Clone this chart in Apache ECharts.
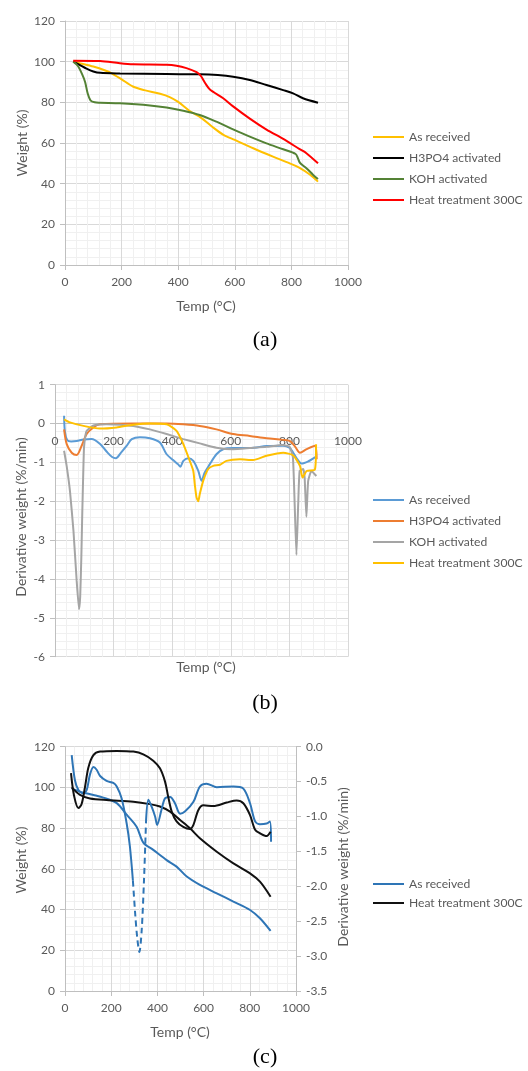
<!DOCTYPE html>
<html>
<head>
<meta charset="utf-8">
<script src="https://cdn.jsdelivr.net/npm/echarts@6/dist/echarts.min.js"></script>
<style>
html,body{margin:0;padding:0;background:#fff;}
.c{position:absolute;left:0;width:528px;height:357px;}
</style>
</head>
<body>
<div id="ca" class="c" style="top:0"></div>
<div id="cb" class="c" style="top:357px"></div>
<div id="cc" class="c" style="top:714px"></div>
<script>
// ---------- Panel (a): Weight (%) vs Temp ----------
const aAsReceived = [[29,100],[60,99],[100,97.6],[140,95.8],[165,94.3],[200,91.3],[240,87.8],[280,86],[336,84.2],[370,82.6],[400,80.2],[442,75.6],[480,72.5],[520,68],[560,64],[600,61.5],[665,57.4],[735,53.3],[794,50],[829,47.8],[865,44.5],[894,41]];
const aH3PO4 = [[29,100],[50,98.6],[76,96.6],[100,95.2],[124,94.5],[194,94.2],[359,93.9],[476,93.8],[540,93.4],[594,92.6],[653,91],[712,88.5],[771,86],[806,84.4],[841,82],[894,79.8]];
const aKOH = [[29,100],[45,98],[60,94],[71,90],[80,84.5],[90,81],[105,80],[124,79.8],[194,79.5],[300,78.5],[359,77.5],[418,75.9],[476,73.8],[535,70.5],[594,66.7],[653,63.1],[712,59.8],[771,56.9],[815,54.6],[823,52.5],[830,50.3],[854,47.5],[877,44.3],[894,42.3]];
const aHeat300 = [[29,100.5],[124,100.3],[194,99.2],[241,98.7],[359,98.5],[394,98],[429,96.8],[465,94.8],[480,93],[495,89.5],[512,86.3],[559,82],[594,78],[653,72],[712,66.6],[771,62],[829,57],[853,55],[894,50]];

// ---------- Panel (b): Derivative weight (%/min) ----------
const bAsReceived = [[31,0.2],[34,-0.22],[42,-0.43],[55,-0.46],[74,-0.45],[97,-0.41],[125,-0.40],[153,-0.52],[176,-0.72],[195,-0.86],[208,-0.89],[224,-0.76],[245,-0.57],[262,-0.40],[290,-0.35],[324,-0.38],[358,-0.49],[381,-0.79],[403,-0.94],[420,-1.05],[428,-1.11],[438,-0.96],[455,-0.89],[472,-0.96],[489,-1.22],[500,-1.47],[511,-1.26],[528,-1.05],[551,-0.79],[574,-0.66],[608,-0.63],[666,-0.63],[722,-0.58],[779,-0.57],[800,-0.62],[813,-0.75],[830,-0.95],[842,-1.03],[865,-0.97],[887,-0.87],[892,-0.86]];
const bH3PO4 = [[31,-0.15],[40,-0.53],[57,-0.75],[74,-0.81],[91,-0.57],[108,-0.27],[131,-0.10],[153,-0.02],[267,0],[381,0],[438,-0.02],[494,-0.06],[551,-0.15],[608,-0.27],[665,-0.32],[722,-0.38],[778,-0.42],[802,-0.45],[820,-0.6],[836,-0.75],[859,-0.66],[887,-0.57],[893,-0.92]];
const bKOH = [[31,-0.70],[40,-1.1],[51,-1.73],[63,-2.76],[74,-4.05],[82,-4.78],[86,-4.45],[90,-3.4],[93,-2.33],[96,-1.4],[99,-0.62],[104,-0.3],[108,-0.19],[131,-0.05],[176,-0.02],[267,-0.06],[324,-0.15],[381,-0.27],[438,-0.40],[494,-0.51],[551,-0.62],[608,-0.66],[665,-0.63],[722,-0.60],[778,-0.55],[801,-0.60],[812,-0.87],[818,-2.08],[824,-3.38],[830,-2.08],[835,-1.22],[847,-1.17],[852,-1.39],[858,-2.40],[864,-1.48],[875,-1.22],[892,-1.35]];
const bHeat300 = [[31,0.11],[51,0.03],[97,-0.06],[153,-0.13],[210,-0.10],[267,-0.03],[324,0],[381,-0.02],[415,-0.19],[438,-0.53],[460,-0.96],[472,-1.22],[477,-1.56],[483,-1.90],[489,-2.0],[494,-1.82],[506,-1.47],[523,-1.17],[540,-1.09],[563,-1.06],[585,-0.96],[631,-0.92],[676,-0.94],[722,-0.83],[779,-0.75],[813,-0.82],[836,-1.09],[845,-1.39],[859,-1.22],[887,-1.18],[891,-0.53]];

// ---------- Panel (c): Weight (left) and derivative (right) ----------
const cAsReceivedW = [[29,99.5],[65,97.9],[123,96.3],[166,95],[224,92.3],[267,86.6],[310,80.7],[339,72.9],[382,69.3],[440,64.3],[483,61.1],[527,56.2],[584,52.1],[657,48],[729,43.9],[801,39.8],[844,35.7],[890,29.5]];
const cHeat300W = [[29,100],[65,96.3],[108,94.6],[180,93.8],[296,93],[368,91.8],[411,90.6],[455,88.1],[498,84],[541,79.9],[584,75],[657,68.4],[729,62.7],[801,57.8],[844,53.7],[890,46.3]];
const cAsReceivedD1 = [[29,-0.12],[43,-0.48],[58,-0.62],[79,-0.67],[94,-0.62],[108,-0.40],[123,-0.29],[137,-0.33],[152,-0.42],[180,-0.49],[209,-0.52],[224,-0.57],[245,-0.74],[267,-1.1],[281,-1.43],[294,-1.92]];
const cAsReceivedDdash = [[294,-1.92],[304,-2.4],[313,-2.75],[322,-2.94],[332,-2.63],[342,-1.91],[351,-1.05]];
const cAsReceivedD2 = [[351,-1.05],[361,-0.76],[375,-0.86],[390,-1.0],[399,-1.12],[418,-0.9],[433,-0.74],[455,-0.72],[476,-0.81],[498,-0.96],[519,-0.93],[556,-0.79],[584,-0.57],[613,-0.53],[657,-0.58],[729,-0.57],[772,-0.6],[801,-0.81],[823,-1.07],[844,-1.11],[873,-1.1],[887,-1.07],[892,-1.36]];
const cHeat300D = [[26,-0.38],[39,-0.70],[58,-0.88],[72,-0.82],[87,-0.57],[101,-0.30],[123,-0.12],[152,-0.07],[224,-0.06],[296,-0.07],[339,-0.11],[382,-0.2],[411,-0.31],[433,-0.5],[447,-0.72],[462,-0.93],[483,-1.07],[512,-1.15],[541,-1.18],[556,-1.12],[577,-0.91],[599,-0.84],[642,-0.85],[700,-0.8],[743,-0.77],[772,-0.81],[801,-0.98],[823,-1.19],[844,-1.24],[873,-1.28],[890,-1.22]];

const tempTicks = {min:0, max:1000, interval:200};
const weightTicks = {min:0, max:120, interval:20};
const derivTicksB = {min:-6, max:1, interval:1};
const derivTicksC = {min:-3.5, max:0, interval:0.5};

const FONT = 'Lato, "Open Sans", sans-serif';
const TXT = '#595959';
const AXC = '#BFBFBF';
const plain = v => String(v);

function valAxis(t, extra){
  return Object.assign({
    type:'value', min:t.min, max:t.max, interval:t.interval,
    axisLine:{show:true, onZero:false, lineStyle:{color:AXC, width:1}},
    axisTick:{show:true, length:5, lineStyle:{color:AXC}},
    axisLabel:{color:TXT, fontSize:12, fontFamily:FONT, margin:10, formatter:plain},
    splitLine:{show:true, lineStyle:{color:'#D9D9D9', width:1}},
    minorTick:{show:false, splitNumber:5},
    minorSplitLine:{show:true, lineStyle:{color:'#F0F0F0', width:1}}
  }, extra||{});
}
function line(name, data, color, extra){
  return Object.assign({
    type:'line', name:name, data:data, showSymbol:false, symbol:'none',
    smooth:0.3, lineStyle:{color:color, width:2}, itemStyle:{color:color},
    animation:false, emphasis:{disabled:true}
  }, extra||{});
}
function legend(top, gap, names){
  return {orient:'vertical', left:373, top:top, padding:0, itemWidth:31, itemHeight:2, itemGap:gap,
    itemTextGap:5, icon:'rect', selectedMode:false,
    textStyle:{color:TXT, fontSize:12.1, fontFamily:FONT, lineHeight:14}, data:names};
}
function txt(x, y, s, opts){
  return Object.assign({type:'text', x:x, y:y, silent:true,
    style:Object.assign({text:s, fill:TXT, font:'14px ' + FONT, align:'center', verticalAlign:'middle',
      textAlign:'center', textVerticalAlign:'middle'}, (opts&&opts.style)||{})},
    (opts&&opts.rotation!==undefined)?{rotation:opts.rotation}:{});
}
const serif = '22px "Liberation Serif", "DejaVu Serif", serif';

// Chart A
const chA = echarts.init(document.getElementById('ca'));
chA.setOption({
  animation:false,
  grid:{left:65, top:21, width:283, height:244},
  xAxis:valAxis(tempTicks, {axisLabel:{color:TXT, fontSize:12, fontFamily:FONT, margin:11, formatter:plain}}),
  yAxis:valAxis(weightTicks),
  legend:legend(130, 7, ['As received','H3PO4 activated','KOH activated','Heat treatment 300C']),
  series:[
    line('As received', aAsReceived, '#FFC000'),
    line('H3PO4 activated', aH3PO4, '#000000'),
    line('KOH activated', aKOH, '#548235'),
    line('Heat treatment 300C', aHeat300, '#FF0000')
  ],
  graphic:[
    txt(22, 143, 'Weight (%)', {rotation:Math.PI/2}),
    txt(206, 306, 'Temp (°C)'),
    txt(265, 340, '(a)', {style:{font:serif, fill:'#000'}})
  ]
});

// Chart B: x axis line sits on the y = 0 level (offset moves it up from the bottom edge)
const gridBHeight = 272;
const zeroOffsetB = -gridBHeight * (0 - derivTicksB.min) / (derivTicksB.max - derivTicksB.min);
const chB = echarts.init(document.getElementById('cb'));
chB.setOption({
  animation:false,
  grid:{left:55, top:27.7, width:293, height:gridBHeight},
  xAxis:valAxis(tempTicks, {
    position:'bottom', offset:zeroOffsetB,
    axisLine:{show:true, onZero:false, lineStyle:{color:AXC, width:1}},
    axisTick:{show:false},
    axisLabel:{color:TXT, fontSize:12, fontFamily:FONT, margin:12, formatter:plain}
  }),
  yAxis:valAxis(derivTicksB),
  legend:legend(136, 7, ['As received','H3PO4 activated','KOH activated','Heat treatment 300C']),
  series:[
    line('As received', bAsReceived, '#5B9BD5'),
    line('H3PO4 activated', bH3PO4, '#ED7D31'),
    line('KOH activated', bKOH, '#A5A5A5', {smooth:0.15}),
    line('Heat treatment 300C', bHeat300, '#FFC000', {smooth:0.2})
  ],
  graphic:[
    txt(21, 160, 'Derivative weight (%/min)', {rotation:Math.PI/2}),
    txt(206, 310, 'Temp (°C)'),
    txt(265, 346, '(b)', {style:{font:serif, fill:'#000'}})
  ]
});

// Chart C
const chC = echarts.init(document.getElementById('cc'));
const BLUE = '#2E75B6', BLK = '#111111';
chC.setOption({
  animation:false,
  grid:{left:65, top:32.7, width:231, height:244.3},
  xAxis:valAxis(tempTicks, {axisLabel:{color:TXT, fontSize:12, fontFamily:FONT, margin:11, formatter:plain}}),
  yAxis:[
    valAxis(weightTicks),
    valAxis(derivTicksC, {position:'right',
      splitLine:{show:false}, minorSplitLine:{show:false},
      axisLabel:{color:TXT, fontSize:12, fontFamily:FONT, margin:10, formatter:v=>v.toFixed(1)}})
  ],
  legend:legend(163, 5, ['As received','Heat treatment 300C']),
  series:[
    line('As received', cAsReceivedW, BLUE),
    line('Heat treatment 300C', cHeat300W, BLK),
    line('As received', cAsReceivedD1, BLUE, {yAxisIndex:1}),
    line('As received', cAsReceivedDdash, BLUE, {yAxisIndex:1, lineStyle:{color:BLUE, width:2, type:[6,4]}}),
    line('As received', cAsReceivedD2, BLUE, {yAxisIndex:1}),
    line('Heat treatment 300C', cHeat300D, BLK, {yAxisIndex:1})
  ],
  graphic:[
    txt(21, 146, 'Weight (%)', {rotation:Math.PI/2}),
    txt(343, 153, 'Derivative weight (%/min)', {rotation:Math.PI/2}),
    txt(180, 318, 'Temp (°C)'),
    txt(265, 343, '(c)', {style:{font:serif, fill:'#000'}})
  ]
});
</script>
</body>
</html>
